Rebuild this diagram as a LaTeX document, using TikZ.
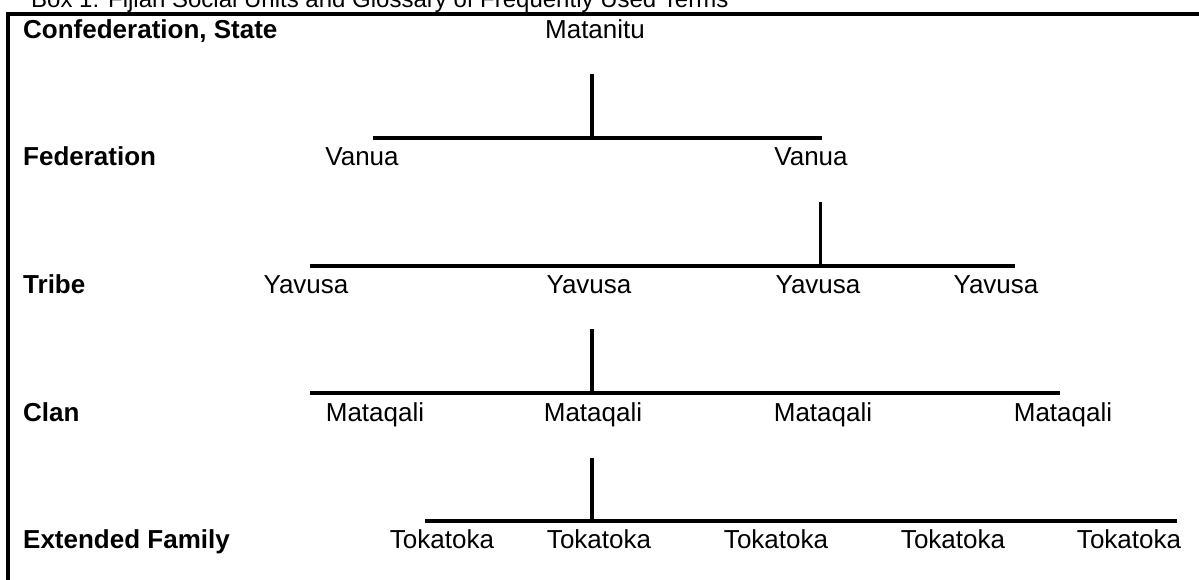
\documentclass[tikz,border=0pt]{standalone}
\usepackage{fontspec}
\setmainfont{Liberation Sans}
\begin{document}
\begin{tikzpicture}[x=1pt,y=-1pt,
  term/.style={anchor=base,inner sep=0pt,font=\fontsize{26}{31}\selectfont},
  level/.style={anchor=base west,inner sep=0pt,font=\fontsize{26}{31}\selectfont\bfseries},
  bar/.style={line width=3.5pt},
  frame/.style={line width=4pt}]
\useasboundingbox (0,0) rectangle (1199,579);
\clip (0,0) rectangle (1199,579);
% caption (cut off at top)
\node[anchor=base west,inner sep=0pt,font=\fontsize{24}{29}\selectfont] (cap) at (31,7) {Box 1: Fijian Social Units and Glossary of Frequently Used Terms};
% frame
\coordinate (ftl) at (7.5,14);
\coordinate (ftr) at (1205,14);
\coordinate (fbl) at (7.5,590);
\draw[frame] (ftr) -- (ftl) -- (fbl);
% level labels
\node[level] (l1) at (23,38) {Confederation, State};
\node[level] (l2) at (23,165) {Federation};
\node[level] (l3) at (23,293) {Tribe};
\node[level] (l4) at (23,421) {Clan};
\node[level] (l5) at (23,548) {Extended Family};
% terms
\node[term] (mat) at (595,38) {Matanitu};
\node[term] (v1) at (362,165) {Vanua};
\node[term] (v2) at (811,165) {Vanua};
\node[term] (y1) at (306,293) {Yavusa};
\node[term] (y2) at (589,293) {Yavusa};
\node[term] (y3) at (818,293) {Yavusa};
\node[term] (y4) at (996,293) {Yavusa};
\node[term] (m1) at (375,421) {Mataqali};
\node[term] (m2) at (593,421) {Mataqali};
\node[term] (m3) at (823,421) {Mataqali};
\node[term] (m4) at (1063,421) {Mataqali};
\node[term] (t1) at (442,548) {Tokatoka};
\node[term] (t2) at (599,548) {Tokatoka};
\node[term] (t3) at (776,548) {Tokatoka};
\node[term] (t4) at (953,548) {Tokatoka};
\node[term] (t5) at (1129,548) {Tokatoka};
% connectors
\coordinate (s1a) at (592,74);  \coordinate (s1b) at (592,138);
\coordinate (h1a) at (373,138); \coordinate (h1b) at (822,138);
\draw[bar] (s1a) -- (s1b);
\draw[bar] (h1a) -- (h1b);
\coordinate (s2a) at (820.5,202); \coordinate (s2b) at (820.5,266);
\coordinate (h2a) at (310,266);   \coordinate (h2b) at (1015,266);
\draw[bar] (s2a) -- (s2b);
\draw[bar] (h2a) -- (h2b);
\coordinate (s3a) at (592,329); \coordinate (s3b) at (592,393);
\coordinate (h3a) at (310,393); \coordinate (h3b) at (1060,393);
\draw[bar] (s3a) -- (s3b);
\draw[bar] (h3a) -- (h3b);
\coordinate (s4a) at (592,458); \coordinate (s4b) at (592,521);
\coordinate (h4a) at (425,521); \coordinate (h4b) at (1177,521);
\draw[bar] (s4a) -- (s4b);
\draw[bar] (h4a) -- (h4b);
\end{tikzpicture}
\end{document}
